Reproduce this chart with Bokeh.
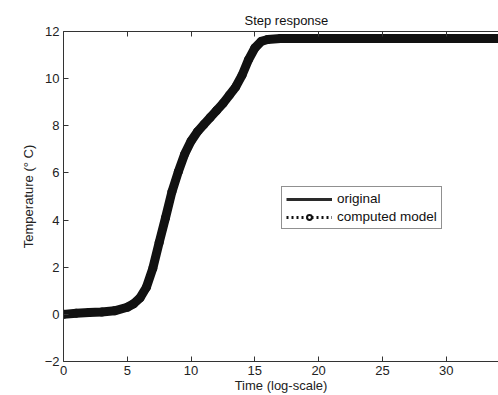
from bokeh.plotting import figure
from bokeh.models import (ColumnDataSource, Legend, LegendItem, LinearAxis,
                          Range1d)
from bokeh.embed import file_html
from bokeh.resources import INLINE

# ---- data ----
time_s = [0, 1, 2, 3, 4, 5, 5.5, 6, 6.5, 7, 7.5, 8, 8.5, 9, 9.5, 10, 10.5,
          11, 11.5, 12, 12.5, 13, 13.5, 14, 14.5, 15, 15.5, 16, 17, 20, 25,
          30, 34]
original = [0.0, 0.05, 0.08, 0.1, 0.15, 0.3, 0.45, 0.7, 1.15, 1.95, 3.05,
            4.1, 5.2, 6.05, 6.8, 7.35, 7.75, 8.05, 8.35, 8.65, 8.95, 9.3,
            9.65, 10.15, 10.8, 11.3, 11.58, 11.66, 11.7, 11.7, 11.7,
            11.7, 11.7]
model = [0.0, 0.05, 0.08, 0.1, 0.15, 0.3, 0.45, 0.7, 1.15, 1.95, 3.05,
         4.1, 5.2, 6.05, 6.8, 7.35, 7.75, 8.05, 8.35, 8.65, 8.95, 9.3,
         9.65, 10.15, 10.8, 11.3, 11.58, 11.66, 11.7, 11.7, 11.7,
         11.7, 11.7]

x_ticks = [0, 5, 10, 15, 20, 25, 30]
y_ticks = [-2, 0, 2, 4, 6, 8, 10, 12]

title_text = "Step response"
x_label = "Time (log-scale)"
y_label = "Temperature (\u00b0 C)"
legend_labels = ["original", "computed model"]

FONT = "Liberation Sans"
FS = "13px"
AX = "#333333"
INK = "#111111"

p = figure(width=498, height=395, output_backend="svg", toolbar_location=None,
           x_range=Range1d(0, 34.1), y_range=Range1d(-2, 12),
           min_border_left=63, min_border_right=0, min_border_top=31,
           min_border_bottom=34)
p.background_fill_color = "white"
p.border_fill_color = "white"
p.outline_line_color = None
p.grid.visible = False

p.title.text = title_text
p.title.text_font = FONT
p.title.text_font_size = FS
p.title.text_font_style = "normal"
p.title.text_color = INK
p.title.align = "left"
p.title.offset = 181
p.title.standoff = 7

for ax in (p.xaxis[0], p.yaxis[0]):
    ax.axis_line_color = AX
    ax.major_tick_line_color = AX
    ax.major_tick_in = 5
    ax.major_tick_out = 0
    ax.minor_tick_line_color = None
    ax.major_label_text_font = FONT
    ax.major_label_text_font_size = FS
    ax.major_label_text_color = "#222222"
    ax.axis_label_text_font = FONT
    ax.axis_label_text_font_size = FS
    ax.axis_label_text_font_style = "normal"
    ax.axis_label_text_color = "#222222"

p.xaxis[0].ticker = x_ticks
p.yaxis[0].ticker = y_ticks
p.xaxis[0].axis_label = x_label
p.yaxis[0].axis_label = y_label
p.xaxis[0].major_label_standoff = 4
p.xaxis[0].axis_label_standoff = 0
p.yaxis[0].major_label_standoff = 4
p.yaxis[0].axis_label_standoff = 6

top = LinearAxis(ticker=x_ticks, axis_line_color=AX, major_tick_line_color=AX,
                 major_tick_in=5, major_tick_out=0, minor_tick_line_color=None,
                 major_label_overrides={t: "" for t in x_ticks},
                 major_label_standoff=0)
p.add_layout(top, "above")

src = ColumnDataSource(dict(t=time_s, orig=original, mod=model))

r_mod_line = p.line("t", "mod", source=src, line_width=3, line_color=INK,
                    line_dash="2 3")
r_mod_pt = p.scatter("t", "mod", source=src, marker="circle", size=7,
                     line_width=2, line_color=INK, fill_color="white")
r_orig = p.line("t", "orig", source=src, line_width=3, line_color="#2a2a2a")
p.line("t", "mod", source=src, line_width=9, line_color=INK,
       line_join="round", line_cap="round")

legend = Legend(items=[LegendItem(label=legend_labels[0], renderers=[r_orig]),
                       LegendItem(label=legend_labels[1],
                                  renderers=[r_mod_line, r_mod_pt])],
                location=(218, 132), orientation="vertical",
                glyph_width=46, glyph_height=12, label_height=12,
                label_standoff=5, spacing=3, padding=4, margin=0,
                label_text_font=FONT, label_text_font_size="13.5px",
                label_text_color=INK,
                border_line_color="#222222", border_line_width=1,
                background_fill_color="white", background_fill_alpha=1)
p.add_layout(legend, "center")

open("out.html", "w").write(file_html(p, INLINE))
